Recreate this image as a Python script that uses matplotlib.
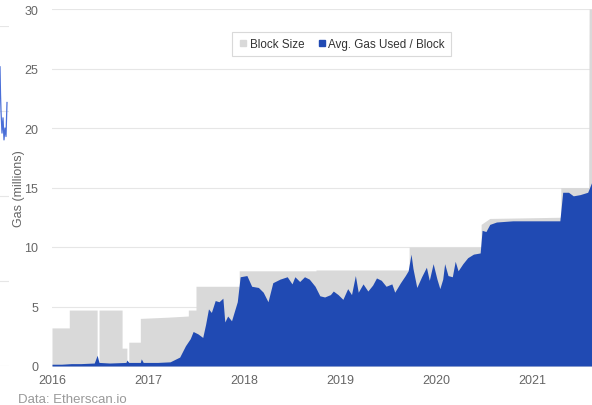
import matplotlib
matplotlib.use("Agg")
import matplotlib.pyplot as plt
from matplotlib.lines import Line2D

plt.rcParams['font.family'] = ['Liberation Sans', 'DejaVu Sans']

# Block size (gas limit), millions, step-like series
limit_years = [2016.0, 2016.18, 2016.18, 2016.47, 2016.47, 2016.49, 2016.49, 2016.73, 2016.73,
               2016.78, 2016.78, 2016.80, 2016.80, 2016.92, 2016.92, 2017.20, 2017.42, 2017.42,
               2017.50, 2017.50, 2017.95, 2017.95, 2018.75, 2018.75, 2019.72, 2019.72, 2020.47,
               2020.47, 2020.56, 2021.30, 2021.30, 2021.59, 2021.595, 2021.625]
limit_vals = [3.2, 3.2, 4.7, 4.7, 0.3, 0.3, 4.7, 4.7, 1.5,
              1.5, 0.3, 0.3, 2.0, 2.0, 4.0, 4.1, 4.2, 4.7,
              4.7, 6.7, 6.7, 8.0, 8.0, 8.07, 8.07, 10.0, 10.0,
              11.9, 12.4, 12.5, 15.0, 15.0, 30.0, 30.0]

# Average gas used per block, millions
gas_years = [2016.00, 2016.10, 2016.20, 2016.30, 2016.44, 2016.47, 2016.49, 2016.60, 2016.77, 2016.78,
             2016.80, 2016.92, 2016.93, 2016.95, 2017.10, 2017.23, 2017.33, 2017.39, 2017.44, 2017.47,
             2017.52, 2017.57, 2017.60, 2017.63, 2017.66, 2017.70, 2017.74, 2017.78, 2017.80, 2017.83,
             2017.87, 2017.93, 2017.96, 2018.03, 2018.08, 2018.15, 2018.20, 2018.25, 2018.30, 2018.375,
             2018.45, 2018.50, 2018.53, 2018.58, 2018.63, 2018.68, 2018.71, 2018.74, 2018.79, 2018.84,
             2018.90, 2018.93, 2018.98, 2019.03, 2019.08, 2019.12, 2019.16, 2019.19, 2019.24, 2019.29,
             2019.34, 2019.38, 2019.43, 2019.48, 2019.54, 2019.57, 2019.63, 2019.68, 2019.71, 2019.74,
             2019.76, 2019.80, 2019.85, 2019.90, 2019.93, 2019.97, 2020.01, 2020.04, 2020.07, 2020.09,
             2020.125, 2020.17, 2020.20, 2020.23, 2020.28, 2020.33, 2020.39, 2020.46, 2020.48, 2020.52,
             2020.56, 2020.63, 2020.80, 2021.00, 2021.29, 2021.32, 2021.38, 2021.43, 2021.50, 2021.58,
             2021.625]
gas_vals = [0.15, 0.15, 0.2, 0.2, 0.25, 0.9, 0.3, 0.25, 0.3, 0.5,
            0.3, 0.3, 0.6, 0.3, 0.3, 0.35, 0.75, 1.7, 2.3, 2.9,
            2.7, 2.4, 3.5, 4.8, 4.5, 5.5, 5.4, 5.7, 3.7, 4.2,
            3.8, 5.4, 7.5, 7.6, 6.7, 6.6, 6.2, 5.4, 7.0, 7.3,
            7.5, 6.9, 7.5, 7.1, 7.5, 7.3, 7.0, 6.7, 5.9, 5.8,
            6.0, 6.3, 6.0, 5.6, 6.5, 6.0, 7.6, 6.2, 6.9, 6.3,
            6.8, 7.4, 7.2, 6.7, 6.9, 6.2, 7.0, 7.6, 8.0, 9.4,
            8.2, 6.6, 7.5, 8.3, 7.2, 8.6, 7.3, 6.5, 7.3, 8.6,
            7.6, 7.5, 8.8, 8.0, 8.6, 9.1, 9.4, 9.5, 11.4, 11.3,
            11.9, 12.1, 12.2, 12.2, 12.2, 14.6, 14.6, 14.3, 14.4, 14.6,
            15.5]

year_ticks = [2016, 2017, 2018, 2019, 2020, 2021]
y_ticks = [0, 5, 10, 15, 20, 25, 30]

# fragment of a neighbouring chart visible at the left edge
neighbor_x = [0, 0.5, 1, 2, 3, 4, 5, 6, 7]
neighbor_vals = [17.6, 16.0, 15.0, 13.7, 14.6, 13.3, 14.0, 13.5, 15.5]
neighbor_grid = [0, 5, 10, 15, 20]

GRAY = '#d9d9d9'
BLUE = '#204ab3'
TICK = '#666666'

fig = plt.figure(figsize=(5.92, 4.06), dpi=100)
W, H = 592, 406

ax2 = fig.add_axes([0, (H - 367) / H, 9 / W, 340 / H])
ax2.set_xlim(0, 9)
ax2.set_ylim(0, 20)
for g in neighbor_grid:
    ax2.axhline(g, color='#e6e6e6', linewidth=0.8)
ax2.plot(neighbor_x, neighbor_vals, color='#4a6fd8', linewidth=0.9)
ax2.axis('off')

ax = fig.add_axes([52 / W, (H - 367) / H, 540 / W, 357 / H])

ax.fill_between(limit_years, 0, limit_vals, color=GRAY, linewidth=0, zorder=2)
ax.fill_between(gas_years, 0, gas_vals, color=BLUE, linewidth=0, zorder=3)

ax.set_xlim(2016, 2021.625)
ax.set_ylim(0, 30)
ax.set_xticks(year_ticks)
ax.set_xticklabels([str(y) for y in year_ticks])
ax.set_yticks(y_ticks)
ax.grid(axis='y', color='#e6e6e6', linewidth=0.8, zorder=0)
ax.set_axisbelow(True)
for s in ax.spines.values():
    s.set_visible(False)
ax.tick_params(axis='both', length=0, labelsize=9, colors=TICK)
ax.tick_params(axis='y', pad=10)
ax.tick_params(axis='x', pad=6)
ax.set_ylabel('Gas (millions)', fontsize=9, color=TICK)
ax.yaxis.set_label_coords(-27 / 540, 0.5)

handles = [Line2D([], [], marker='s', linestyle='none', color=GRAY, markersize=5),
           Line2D([], [], marker='s', linestyle='none', color=BLUE, markersize=5)]
leg = ax.legend(handles, ['Block Size', 'Avg. Gas Used / Block'], loc='upper left',
                bbox_to_anchor=(0.322, 0.952), ncol=2, frameon=True, fancybox=False,
                fontsize=8.4, handletextpad=0.05, columnspacing=1.0, borderpad=0.5,
                handlelength=1.0, labelcolor='#333333')
leg.get_frame().set_edgecolor('#d0d0d0')
leg.get_frame().set_linewidth(0.8)

fig.text(18 / W, (H - 400) / H, 'Data: Etherscan.io', fontsize=9.5, color='#999999',
         ha='left', va='center')

fig.savefig('out.png', dpi=100)
